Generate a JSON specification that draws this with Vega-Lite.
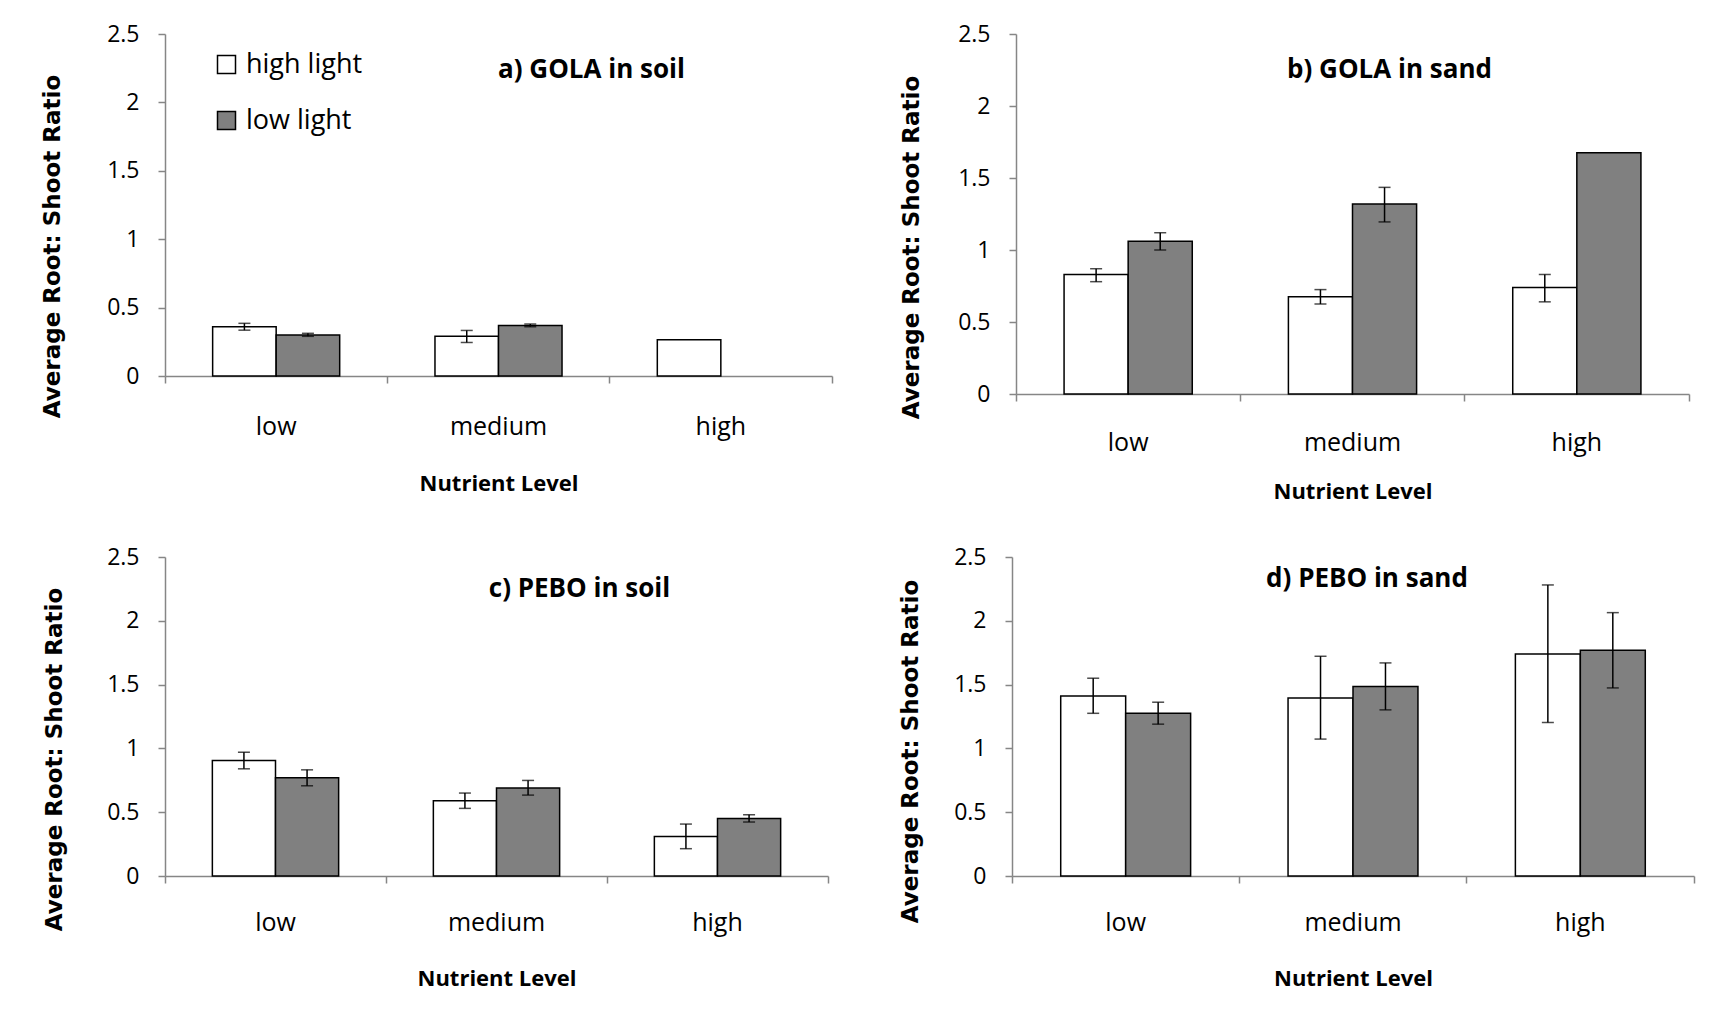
{
  "$schema": "https://vega.github.io/schema/vega-lite/v6.json",
  "background": "white",
  "padding": {"left": 40, "top": 23, "right": 5, "bottom": 10},
  "datasets": {
    "d": [
      {"panel": "a", "nutrient": "low", "light": "high light", "value": 0.36, "lo": 0.335, "hi": 0.385},
      {"panel": "a", "nutrient": "low", "light": "low light", "value": 0.30, "lo": 0.29, "hi": 0.312},
      {"panel": "a", "nutrient": "medium", "light": "high light", "value": 0.29, "lo": 0.245, "hi": 0.333},
      {"panel": "a", "nutrient": "medium", "light": "low light", "value": 0.37, "lo": 0.36, "hi": 0.38},
      {"panel": "a", "nutrient": "high", "light": "high light", "value": 0.265, "lo": null, "hi": null},
      {"panel": "b", "nutrient": "low", "light": "high light", "value": 0.83, "lo": 0.78, "hi": 0.87},
      {"panel": "b", "nutrient": "low", "light": "low light", "value": 1.06, "lo": 1.0, "hi": 1.12},
      {"panel": "b", "nutrient": "medium", "light": "high light", "value": 0.675, "lo": 0.625, "hi": 0.725},
      {"panel": "b", "nutrient": "medium", "light": "low light", "value": 1.32, "lo": 1.195, "hi": 1.435},
      {"panel": "b", "nutrient": "high", "light": "high light", "value": 0.74, "lo": 0.64, "hi": 0.83},
      {"panel": "b", "nutrient": "high", "light": "low light", "value": 1.675, "lo": null, "hi": null},
      {"panel": "c", "nutrient": "low", "light": "high light", "value": 0.905, "lo": 0.84, "hi": 0.97},
      {"panel": "c", "nutrient": "low", "light": "low light", "value": 0.77, "lo": 0.707, "hi": 0.832},
      {"panel": "c", "nutrient": "medium", "light": "high light", "value": 0.59, "lo": 0.53, "hi": 0.65},
      {"panel": "c", "nutrient": "medium", "light": "low light", "value": 0.69, "lo": 0.634, "hi": 0.749},
      {"panel": "c", "nutrient": "high", "light": "high light", "value": 0.31, "lo": 0.214, "hi": 0.407},
      {"panel": "c", "nutrient": "high", "light": "low light", "value": 0.45, "lo": 0.423, "hi": 0.48},
      {"panel": "d", "nutrient": "low", "light": "high light", "value": 1.41, "lo": 1.275, "hi": 1.55},
      {"panel": "d", "nutrient": "low", "light": "low light", "value": 1.275, "lo": 1.19, "hi": 1.362},
      {"panel": "d", "nutrient": "medium", "light": "high light", "value": 1.395, "lo": 1.073, "hi": 1.722},
      {"panel": "d", "nutrient": "medium", "light": "low light", "value": 1.485, "lo": 1.302, "hi": 1.67},
      {"panel": "d", "nutrient": "high", "light": "high light", "value": 1.74, "lo": 1.203, "hi": 2.281},
      {"panel": "d", "nutrient": "high", "light": "low light", "value": 1.77, "lo": 1.474, "hi": 2.064}
    ]
  },
  "spacing": 44,
  "resolve": {
    "scale": {"x": "independent", "y": "independent", "xOffset": "independent", "fill": "independent"},
    "legend": {"fill": "independent"}
  },
  "vconcat": [
    {
      "spacing": 66,
      "resolve": {
        "scale": {"x": "independent", "y": "independent", "xOffset": "independent", "fill": "independent"},
        "legend": {"fill": "independent"}
      },
      "hconcat": [
        {
          "width": 667, "height": 342,
          "data": {"name": "d"},
          "title": {"text": "a) GOLA in soil", "offset": -60, "dx": 93},
          "transform": [{"filter": "datum.panel == 'a'"}],
          "encoding": {
            "x": {"field": "nutrient", "type": "nominal", "sort": ["low", "medium", "high"],
                  "scale": {"domain": ["low", "medium", "high"], "paddingInner": 0, "paddingOuter": 0},
                  "axis": {"title": "Nutrient Level", "labelPadding": 31, "titleY": 114}},
            "xOffset": {"field": "light", "type": "nominal", "scale": {"domain": ["high light", "low light"], "paddingInner": 0, "paddingOuter": 0.75}}
          },
          "layer": [
            {"mark": {"type": "bar", "stroke": "black", "strokeWidth": 1.5},
             "encoding": {
               "y": {"field": "value", "type": "quantitative", "scale": {"domain": [0, 2.5], "nice": false},
                     "title": "Average Root: Shoot Ratio",
                     "axis": {"values": [0, 0.5, 1, 1.5, 2, 2.5], "format": "~g", "titleX": -106, "titleY": 212}},
               "fill": {"field": "light", "type": "nominal", "scale": {"domain": ["high light", "low light"], "range": ["#ffffff", "#808080"]},
                        "legend": {"orient": "none", "legendX": 48, "legendY": 17, "title": null, "symbolType": "square", "symbolSize": 324,
                                   "symbolStrokeColor": "black", "symbolStrokeWidth": 1.5, "symbolOpacity": 1, "labelFont": "Open Sans",
                                   "labelFontSize": 27, "labelColor": "black", "labelOffset": 6, "rowPadding": 28, "padding": 0}}
             }},
            {"transform": [{"filter": "isValid(datum.lo)"}], "mark": {"type": "rule", "color": "black", "strokeWidth": 1.5},
             "encoding": {"y": {"field": "lo", "type": "quantitative", "title": "Average Root: Shoot Ratio"}, "y2": {"field": "hi"}}},
            {"transform": [{"filter": "isValid(datum.lo)"}], "mark": {"type": "tick", "color": "black", "size": 12, "thickness": 1.5},
             "encoding": {"y": {"field": "lo", "type": "quantitative", "title": "Average Root: Shoot Ratio"}}},
            {"transform": [{"filter": "isValid(datum.hi)"}], "mark": {"type": "tick", "color": "black", "size": 12, "thickness": 1.5},
             "encoding": {"y": {"field": "hi", "type": "quantitative", "title": "Average Root: Shoot Ratio"}}}
          ]
        },
        {
          "width": 673, "height": 360,
          "data": {"name": "d"},
          "title": {"text": "b) GOLA in sand", "offset": -60, "dx": 37},
          "transform": [{"filter": "datum.panel == 'b'"}],
          "encoding": {
            "x": {"field": "nutrient", "type": "nominal", "sort": ["low", "medium", "high"],
                  "scale": {"domain": ["low", "medium", "high"], "paddingInner": 0, "paddingOuter": 0},
                  "axis": {"title": "Nutrient Level", "labelPadding": 29, "titleY": 104}},
            "xOffset": {"field": "light", "type": "nominal", "scale": {"domain": ["high light", "low light"], "paddingInner": 0, "paddingOuter": 0.75}}
          },
          "layer": [
            {"mark": {"type": "bar", "stroke": "black", "strokeWidth": 1.5},
             "encoding": {
               "y": {"field": "value", "type": "quantitative", "scale": {"domain": [0, 2.5], "nice": false},
                     "title": "Average Root: Shoot Ratio",
                     "axis": {"values": [0, 0.5, 1, 1.5, 2, 2.5], "format": "~g", "titleX": -98, "titleY": 213}},
               "fill": {"field": "light", "type": "nominal", "scale": {"domain": ["high light", "low light"], "range": ["#ffffff", "#808080"]}, "legend": null}
             }},
            {"transform": [{"filter": "isValid(datum.lo)"}], "mark": {"type": "rule", "color": "black", "strokeWidth": 1.5},
             "encoding": {"y": {"field": "lo", "type": "quantitative", "title": "Average Root: Shoot Ratio"}, "y2": {"field": "hi"}}},
            {"transform": [{"filter": "isValid(datum.lo)"}], "mark": {"type": "tick", "color": "black", "size": 12, "thickness": 1.5},
             "encoding": {"y": {"field": "lo", "type": "quantitative", "title": "Average Root: Shoot Ratio"}}},
            {"transform": [{"filter": "isValid(datum.hi)"}], "mark": {"type": "tick", "color": "black", "size": 12, "thickness": 1.5},
             "encoding": {"y": {"field": "hi", "type": "quantitative", "title": "Average Root: Shoot Ratio"}}}
          ]
        }
      ]
    },
    {
      "spacing": 69,
      "resolve": {
        "scale": {"x": "independent", "y": "independent", "xOffset": "independent", "fill": "independent"},
        "legend": {"fill": "independent"}
      },
      "hconcat": [
        {
          "width": 663, "height": 319,
          "data": {"name": "d"},
          "title": {"text": "c) PEBO in soil", "offset": -56, "dx": 83},
          "transform": [{"filter": "datum.panel == 'c'"}],
          "encoding": {
            "x": {"field": "nutrient", "type": "nominal", "sort": ["low", "medium", "high"],
                  "scale": {"domain": ["low", "medium", "high"], "paddingInner": 0, "paddingOuter": 0},
                  "axis": {"title": "Nutrient Level", "labelPadding": 27.5, "titleY": 109}},
            "xOffset": {"field": "light", "type": "nominal", "scale": {"domain": ["high light", "low light"], "paddingInner": 0, "paddingOuter": 0.75}}
          },
          "layer": [
            {"mark": {"type": "bar", "stroke": "black", "strokeWidth": 1.5},
             "encoding": {
               "y": {"field": "value", "type": "quantitative", "scale": {"domain": [0, 2.5], "nice": false},
                     "title": "Average Root: Shoot Ratio",
                     "axis": {"values": [0, 0.5, 1, 1.5, 2, 2.5], "format": "~g", "titleX": -104, "titleY": 202}},
               "fill": {"field": "light", "type": "nominal", "scale": {"domain": ["high light", "low light"], "range": ["#ffffff", "#808080"]}, "legend": null}
             }},
            {"transform": [{"filter": "isValid(datum.lo)"}], "mark": {"type": "rule", "color": "black", "strokeWidth": 1.5},
             "encoding": {"y": {"field": "lo", "type": "quantitative", "title": "Average Root: Shoot Ratio"}, "y2": {"field": "hi"}}},
            {"transform": [{"filter": "isValid(datum.lo)"}], "mark": {"type": "tick", "color": "black", "size": 12, "thickness": 1.5},
             "encoding": {"y": {"field": "lo", "type": "quantitative", "title": "Average Root: Shoot Ratio"}}},
            {"transform": [{"filter": "isValid(datum.hi)"}], "mark": {"type": "tick", "color": "black", "size": 12, "thickness": 1.5},
             "encoding": {"y": {"field": "hi", "type": "quantitative", "title": "Average Root: Shoot Ratio"}}}
          ]
        },
        {
          "width": 682, "height": 319,
          "data": {"name": "d"},
          "title": {"text": "d) PEBO in sand", "offset": -46, "dx": 14},
          "transform": [{"filter": "datum.panel == 'd'"}],
          "encoding": {
            "x": {"field": "nutrient", "type": "nominal", "sort": ["low", "medium", "high"],
                  "scale": {"domain": ["low", "medium", "high"], "paddingInner": 0, "paddingOuter": 0},
                  "axis": {"title": "Nutrient Level", "labelPadding": 27.5, "titleY": 109}},
            "xOffset": {"field": "light", "type": "nominal", "scale": {"domain": ["high light", "low light"], "paddingInner": 0, "paddingOuter": 0.75}}
          },
          "layer": [
            {"mark": {"type": "bar", "stroke": "black", "strokeWidth": 1.5},
             "encoding": {
               "y": {"field": "value", "type": "quantitative", "scale": {"domain": [0, 2.5], "nice": false},
                     "title": "Average Root: Shoot Ratio",
                     "axis": {"values": [0, 0.5, 1, 1.5, 2, 2.5], "format": "~g", "titleX": -95, "titleY": 194}},
               "fill": {"field": "light", "type": "nominal", "scale": {"domain": ["high light", "low light"], "range": ["#ffffff", "#808080"]}, "legend": null}
             }},
            {"transform": [{"filter": "isValid(datum.lo)"}], "mark": {"type": "rule", "color": "black", "strokeWidth": 1.5},
             "encoding": {"y": {"field": "lo", "type": "quantitative", "title": "Average Root: Shoot Ratio"}, "y2": {"field": "hi"}}},
            {"transform": [{"filter": "isValid(datum.lo)"}], "mark": {"type": "tick", "color": "black", "size": 12, "thickness": 1.5},
             "encoding": {"y": {"field": "lo", "type": "quantitative", "title": "Average Root: Shoot Ratio"}}},
            {"transform": [{"filter": "isValid(datum.hi)"}], "mark": {"type": "tick", "color": "black", "size": 12, "thickness": 1.5},
             "encoding": {"y": {"field": "hi", "type": "quantitative", "title": "Average Root: Shoot Ratio"}}}
          ]
        }
      ]
    }
  ],
  "config": {
    "view": {"stroke": null},
    "font": "Open Sans",
    "axis": {"domainColor": "#868686", "domainWidth": 1.5, "tickColor": "#868686", "tickWidth": 1.5, "tickSize": 7,
             "grid": false, "labelColor": "black", "titleColor": "black", "labelFont": "Open Sans"},
    "axisY": {"labelFontSize": 23, "labelPadding": 19, "titleFont": "DejaVu Sans", "titleFontSize": 23, "titleFontWeight": "bold",
              "titleBaseline": "alphabetic", "titleAngle": -90},
    "axisX": {"labelFontSize": 25, "labelAngle": 0, "titleFont": "Open Sans", "titleFontSize": 22, "titleFontWeight": "bold",
              "titleBaseline": "alphabetic", "bandPosition": 1, "tickExtra": true},
    "title": {"font": "Open Sans", "fontSize": 26, "fontWeight": "bold", "color": "black", "anchor": "middle", "frame": "group", "baseline": "alphabetic"}
  }
}
